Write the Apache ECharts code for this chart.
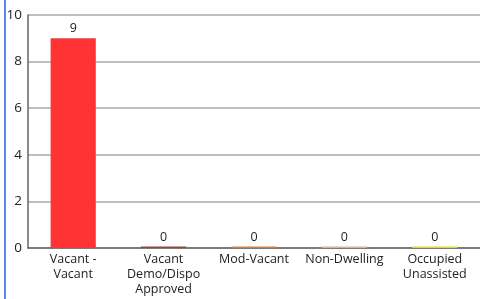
<!DOCTYPE html>
<html>
<head>
<meta charset="utf-8">
<script src="https://cdn.jsdelivr.net/npm/echarts@6/dist/echarts.min.js"></script>
<style>
  html, body { margin: 0; padding: 0; background: #fff; }
  #wrap { position: relative; width: 480px; height: 299px; }
  #edge { position: absolute; left: 4px; top: 0; width: 2px; height: 299px; background: #5a86ee; }
  #chart { position: absolute; left: 0; top: 0; width: 480px; height: 299px; }
</style>
</head>
<body>
<div id="wrap">
  <div id="chart"></div>
  <div id="edge"></div>
</div>
<script>
// categories + values
const categories = ['Vacant -\nVacant', 'Vacant\nDemo/Dispo\nApproved', 'Mod-Vacant', 'Non-Dwelling', 'Occupied\nUnassisted'];
const counts = [9, 0, 0, 0, 0];
const barColors = ['#ff3333', '#a3441c', '#e8762c', '#d8b48e', '#e3e000'];
const yTicks = [0, 2, 4, 6, 8, 10];

const chart = echarts.init(document.getElementById('chart'));

const option = {
  animation: false,
  grid: { left: 28, right: 0, top: 15, bottom: 51 },
  xAxis: {
    type: 'category',
    data: categories,
    axisTick: { show: false },
    axisLine: { lineStyle: { color: '#666', width: 1.5 } },
    axisLabel: {
      color: '#222',
      fontFamily: 'Open Sans',
      fontSize: 12.5,
      lineHeight: 15,
      margin: 4,
      interval: 0
    }
  },
  yAxis: {
    type: 'value',
    min: yTicks[0],
    max: yTicks[yTicks.length - 1],
    interval: 2,
    axisLine: { show: true, lineStyle: { color: '#666', width: 1.5 } },
    axisTick: { show: false },
    splitLine: { lineStyle: { color: '#aaa', width: 1.5 } },
    axisLabel: { color: '#222', fontFamily: 'Open Sans', fontSize: 13.5, margin: 6 }
  },
  series: [{
    type: 'bar',
    barWidth: '50%',
    barMinHeight: 1.5,
    data: counts.map((v, i) => ({ value: v, itemStyle: { color: barColors[i] } })),
    label: {
      show: true,
      position: 'top',
      distance: 3,
      color: '#222',
      fontFamily: 'Open Sans',
      fontSize: 12.5
    }
  }]
};

chart.setOption(option);
</script>
</body>
</html>
